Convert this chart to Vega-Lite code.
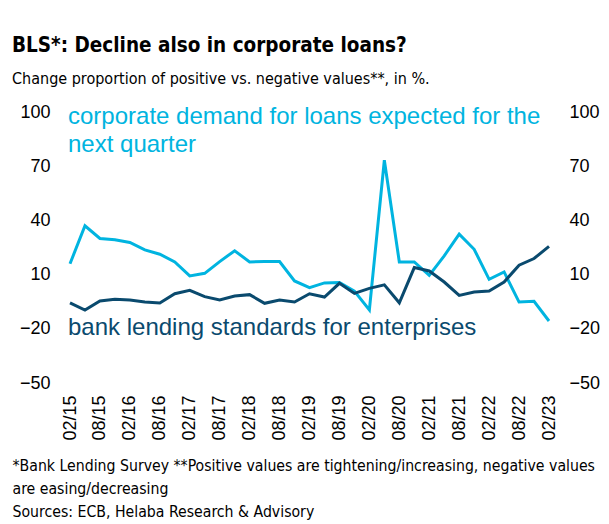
{
  "$schema": "https://vega.github.io/schema/vega-lite/v6.json",
  "width": 479,
  "height": 271,
  "autosize": "none",
  "padding": {"left": 70, "top": 112, "right": 60, "bottom": 141},
  "background": "white",
  "title": {
    "text": "BLS*: Decline also in corporate loans?",
    "subtitle": "Change proportion of positive vs. negative values**, in %.",
    "anchor": "start",
    "frame": "group",
    "dx": -58,
    "offset": 16,
    "font": "DejaVu Sans Condensed",
    "fontSize": 20.5,
    "fontWeight": "bold",
    "color": "#000000",
    "subtitleFont": "DejaVu Sans Condensed",
    "subtitleFontSize": 16,
    "subtitleColor": "#000000",
    "subtitlePadding": 15
  },
  "config": {
    "view": {"stroke": null},
    "axis": {
      "grid": false,
      "domain": false,
      "ticks": false,
      "labelFont": "Liberation Sans",
      "labelFontSize": 18,
      "labelColor": "#000000"
    }
  },
  "data": {
    "values": [
      {"q": "02/15", "demand": 16, "standards": -5.6},
      {"q": "05/15", "demand": 37, "standards": -9.6},
      {"q": "08/15", "demand": 30, "standards": -4.6},
      {"q": "11/15", "demand": 29.3, "standards": -3.7},
      {"q": "02/16", "demand": 27.8, "standards": -4.1},
      {"q": "05/16", "demand": 23.7, "standards": -5.2},
      {"q": "08/16", "demand": 21.3, "standards": -5.7},
      {"q": "11/16", "demand": 17, "standards": -0.6},
      {"q": "02/17", "demand": 9.3, "standards": 1.3},
      {"q": "05/17", "demand": 10.7, "standards": -2.2},
      {"q": "08/17", "demand": 17.2, "standards": -4.1},
      {"q": "11/17", "demand": 23.2, "standards": -1.9},
      {"q": "02/18", "demand": 17, "standards": -1.1},
      {"q": "05/18", "demand": 17.2, "standards": -5.9},
      {"q": "08/18", "demand": 17.2, "standards": -4.1},
      {"q": "11/18", "demand": 6.5, "standards": -5.2},
      {"q": "02/19", "demand": 2.8, "standards": -0.6},
      {"q": "05/19", "demand": 5.4, "standards": -2.4},
      {"q": "08/19", "demand": 5.6, "standards": 5.2},
      {"q": "11/19", "demand": 0.9, "standards": -0.4},
      {"q": "02/20", "demand": -9.6, "standards": 2.4},
      {"q": "05/20", "demand": 73.3, "standards": 4.3},
      {"q": "08/20", "demand": 17, "standards": -5.6},
      {"q": "11/20", "demand": 17, "standards": 13.9},
      {"q": "02/21", "demand": 9.6, "standards": 12},
      {"q": "05/21", "demand": 20.4, "standards": 5.9},
      {"q": "08/21", "demand": 32.4, "standards": -1.5},
      {"q": "11/21", "demand": 24, "standards": 0.4},
      {"q": "02/22", "demand": 7.4, "standards": 0.9},
      {"q": "05/22", "demand": 11.5, "standards": 5.9},
      {"q": "08/22", "demand": -5.2, "standards": 15.2},
      {"q": "11/22", "demand": -4.8, "standards": 18.9},
      {"q": "02/23", "demand": -15.7, "standards": 25.6}
    ]
  },
  "encoding": {
    "x": {
      "field": "q",
      "type": "ordinal",
      "sort": null,
      "scale": {"type": "point", "padding": 0},
      "axis": {
        "values": ["02/15", "08/15", "02/16", "08/16", "02/17", "08/17", "02/18", "08/18", "02/19", "08/19", "02/20", "08/20", "02/21", "08/21", "02/22", "08/22", "02/23"],
        "labelAngle": 270,
        "labelPadding": 12,
        "title": ["*Bank Lending Survey **Positive values are tightening/increasing, negative values", "are easing/decreasing", "Sources: ECB, Helaba Research & Advisory"],
        "titleFont": "DejaVu Sans Condensed",
        "titleFontSize": 15.7,
        "titleFontWeight": "normal",
        "titleColor": "#000000",
        "titleAnchor": "start",
        "titleAlign": "left",
        "titleBaseline": "top",
        "titleX": -58,
        "titleY": 75,
        "titleLineHeight": 23
      }
    }
  },
  "layer": [
    {
      "mark": {"type": "line", "color": "#00B4E0", "strokeWidth": 3},
      "encoding": {
        "y": {
          "field": "demand",
          "type": "quantitative",
          "scale": {"domain": [-50, 100], "nice": false, "zero": false},
          "axis": {"orient": "left", "values": [-50, -20, 10, 40, 70, 100], "title": null, "labelPadding": 20}
        }
      }
    },
    {
      "mark": {"type": "line", "color": "#0A4A6E", "strokeWidth": 3},
      "encoding": {
        "y": {
          "field": "standards",
          "type": "quantitative",
          "axis": {"orient": "right", "values": [-50, -20, 10, 40, 70, 100], "title": null, "labelPadding": 20}
        }
      }
    },
    {
      "data": {
        "values": [
          {"q": "02/15", "v": 97.2, "t": "corporate demand for loans expected for the"},
          {"q": "02/15", "v": 81.7, "t": "next quarter"}
        ]
      },
      "mark": {"type": "text", "align": "left", "baseline": "middle", "dx": -2, "font": "Liberation Sans", "fontSize": 24, "color": "#00B4E0"},
      "encoding": {
        "y": {"field": "v", "type": "quantitative", "axis": null},
        "text": {"field": "t"}
      }
    },
    {
      "data": {
        "values": [
          {"q": "02/15", "v": -19.4, "t": "bank lending standards for enterprises"}
        ]
      },
      "mark": {"type": "text", "align": "left", "baseline": "middle", "dx": -2, "font": "Liberation Sans", "fontSize": 24, "color": "#0A4A6E"},
      "encoding": {
        "y": {"field": "v", "type": "quantitative", "axis": null},
        "text": {"field": "t"}
      }
    }
  ],
  "resolve": {"axis": {"y": "independent"}}
}
